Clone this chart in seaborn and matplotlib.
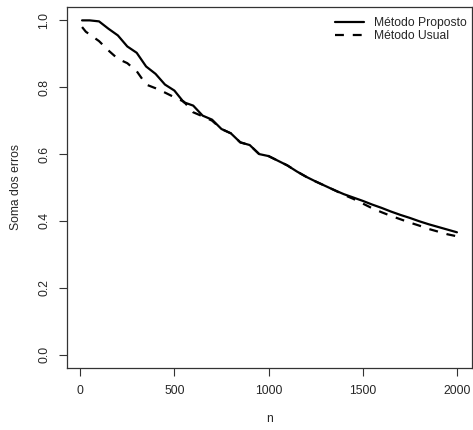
import numpy as np
import pandas as pd
import matplotlib
matplotlib.use('Agg')
import matplotlib.pyplot as plt
import seaborn as sns

# valores
n_prop = [10, 50, 100, 150, 200, 250, 300, 350, 400, 450, 500, 550, 600, 650,
          700, 750, 800, 850, 900, 950, 1000, 1050, 1100, 1150, 1200, 1250,
          1300, 1350, 1400, 1450, 1500, 1550, 1600, 1650, 1700, 1750, 1800,
          1850, 1900, 1950, 2000]
erro_prop = [1.000, 1.000, 0.997, 0.975, 0.955, 0.922, 0.903, 0.862, 0.840,
             0.808, 0.790, 0.755, 0.745, 0.715, 0.703, 0.675, 0.662, 0.635,
             0.627, 0.600, 0.594, 0.580, 0.566, 0.548, 0.532, 0.518, 0.505,
             0.492, 0.480, 0.470, 0.460, 0.449, 0.439, 0.428, 0.418, 0.409,
             0.399, 0.390, 0.382, 0.374, 0.366]

n_usual = [10, 30, 50, 100, 150, 200, 250, 300, 350, 400, 450, 500, 550, 600,
           650, 700, 750, 800, 850, 900, 950, 1000, 1050, 1100, 1150, 1200,
           1250, 1300, 1350, 1400, 1450, 1500, 1550, 1600, 1650, 1700, 1750,
           1800, 1850, 1900, 1950, 2000]
erro_usual = [0.980, 0.966, 0.958, 0.938, 0.910, 0.885, 0.872, 0.848, 0.808,
              0.797, 0.784, 0.770, 0.757, 0.725, 0.713, 0.700, 0.675, 0.662,
              0.635, 0.627, 0.600, 0.594, 0.580, 0.566, 0.548, 0.532, 0.518,
              0.505, 0.492, 0.478, 0.466, 0.452, 0.438, 0.426, 0.415, 0.405,
              0.395, 0.386, 0.376, 0.368, 0.360, 0.354]

metodos = ['Método Proposto', 'Método Usual']

df = pd.concat([
    pd.DataFrame({'n': n_prop, 'erro': erro_prop, 'metodo': metodos[0]}),
    pd.DataFrame({'n': n_usual, 'erro': erro_usual, 'metodo': metodos[1]}),
])

sns.set_style("ticks")
plt.rcParams['font.family'] = ['Liberation Sans', 'DejaVu Sans']

fig = plt.figure(figsize=(4.73, 4.30), dpi=100)
ax = fig.add_axes([67 / 473, 1 - 368 / 430, 405 / 473, 361 / 430])

sns.lineplot(data=df, x='n', y='erro', style='metodo', style_order=metodos,
             dashes={metodos[0]: '', metodos[1]: (4, 4)},
             color='black', linewidth=1.6, ax=ax)

ax.set_xlim(-70, 2080)
ax.set_ylim(-0.04, 1.04)
ax.set_xticks([0, 500, 1000, 1500, 2000])
ax.set_yticks([0.0, 0.2, 0.4, 0.6, 0.8, 1.0])
ax.set_yticklabels(['0.0', '0.2', '0.4', '0.6', '0.8', '1.0'],
                   rotation=90, va='center')
ax.tick_params(labelsize=8.7, length=6, width=0.8, color='#333333', pad=6)
ax.set_xlabel('n', fontsize=8.7, labelpad=12)
ax.set_ylabel('Soma dos erros', fontsize=8.7, labelpad=12)
for s in ax.spines.values():
    s.set_linewidth(0.9)
    s.set_color('#333333')

leg = ax.legend(frameon=False, fontsize=8.7, loc='upper right',
                handlelength=2.4, labelspacing=0.1, borderaxespad=0.0,
                handletextpad=0.9, bbox_to_anchor=(1.0, 0.985))
leg.set_title(None)

fig.savefig('out.png', dpi=100)
